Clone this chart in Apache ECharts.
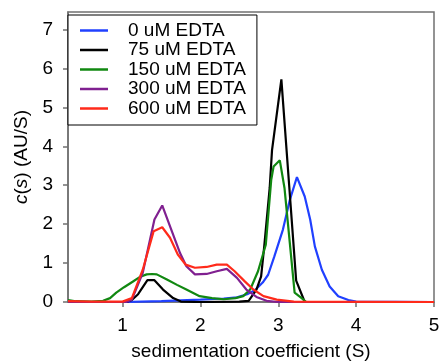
<!DOCTYPE html>
<html>
<head>
<meta charset="utf-8">
<script src="https://cdn.jsdelivr.net/npm/echarts@6/dist/echarts.min.js"></script>
<style>
  html, body {margin: 0; padding: 0; background: #fff;}
  #chart {width: 441px; height: 362px;}
</style>
</head>
<body>
<div id="chart"></div>
<script>
// legend names
const seriesNames = ["0 uM EDTA", "75 uM EDTA", "150 uM EDTA", "300 uM EDTA", "600 uM EDTA"];
const seriesColors = ["#2040ff", "#000000", "#118811", "#802090", "#ff2a1a"];

// [s, c(s)]
const edta0 = [[0.3, 0], [1.0, 0], [1.5, 0.02], [2.0, 0.06], [2.3, 0.09], [2.47, 0.12], [2.6, 0.2], [2.7, 0.3],
    [2.8, 0.5], [2.87, 0.7], [2.95, 1.17], [3.06, 1.86], [3.15, 2.63], [3.24, 3.21], [3.34, 2.71], [3.41, 2.12],
    [3.47, 1.43], [3.56, 0.83], [3.66, 0.4], [3.77, 0.15], [3.9, 0.05], [4.0, 0.01], [5.0, 0]];
const edta75 = [[0.3, 0], [1.05, 0], [1.12, 0.05], [1.2, 0.2], [1.32, 0.56], [1.41, 0.56], [1.52, 0.32],
    [1.65, 0.1], [1.75, 0.01], [2.0, 0], [2.5, 0.01], [2.62, 0.03], [2.72, 0.32], [2.78, 0.66], [2.82, 1.43],
    [2.89, 2.93], [2.92, 3.9], [3.04, 5.72], [3.14, 3.0], [3.23, 0.55], [3.34, 0], [5.0, 0]];
const edta150 = [[0.3, 0.05], [0.4, 0.02], [0.6, 0.01], [0.75, 0.03], [0.84, 0.1], [0.92, 0.24], [1.02, 0.38],
    [1.13, 0.52], [1.22, 0.64], [1.31, 0.71], [1.38, 0.72], [1.44, 0.71], [1.57, 0.58], [1.7, 0.44],
    [1.82, 0.32], [1.99, 0.15], [2.15, 0.1], [2.3, 0.07], [2.45, 0.1], [2.55, 0.15], [2.64, 0.32],
    [2.74, 0.79], [2.84, 1.47], [2.91, 3.14], [2.94, 3.48], [3.02, 3.64], [3.08, 2.93], [3.21, 0.24],
    [3.3, 0.1], [3.36, 0], [5.0, 0]];
const edta300 = [[0.3, 0], [1.05, 0], [1.12, 0.06], [1.26, 0.75], [1.41, 2.12], [1.51, 2.48], [1.62, 1.89],
    [1.74, 1.25], [1.82, 0.92], [1.93, 0.71], [2.08, 0.72], [2.21, 0.79], [2.34, 0.85], [2.47, 0.62],
    [2.59, 0.32], [2.72, 0.13], [2.85, 0.03], [3.0, 0], [5.0, 0]];
const edta600 = [[0.3, 0.02], [0.6, 0.01], [1.0, 0.01], [1.12, 0.1], [1.26, 0.83], [1.4, 1.82], [1.51, 1.92],
    [1.61, 1.65], [1.71, 1.22], [1.81, 0.96], [1.93, 0.88], [2.08, 0.9], [2.21, 0.96], [2.34, 0.96],
    [2.44, 0.79], [2.57, 0.53], [2.68, 0.32], [2.81, 0.15], [2.98, 0.06], [3.2, 0.01], [5.0, 0]];

const xTicks = [1, 2, 3, 4, 5];
const yTicks = [0, 1, 2, 3, 4, 5, 6, 7];

const allData = [edta0, edta75, edta150, edta300, edta600];
const font = "'Liberation Sans', Arial, sans-serif";

const chart = echarts.init(document.getElementById("chart"), null, {renderer: "canvas"});

chart.setOption({
    animation: false,
    textStyle: {fontFamily: font},
    grid: {
        left: 68, right: 7, top: 12, bottom: 60,
        containLabel: false,
        outerBoundsMode: "none",
        show: true,
        borderColor: "#707070",
        borderWidth: 1.5
    },
    legend: {
        orient: "vertical",
        left: 68,
        top: 15,
        padding: [6, 11, 7, 12],
        icon: "rect",
        itemWidth: 28,
        itemHeight: 2.5,
        itemGap: 0.5,
        borderColor: "#000",
        borderWidth: 1,
        backgroundColor: "#fff",
        textStyle: {fontSize: 19, color: "#000", padding: [0, 0, 0, 15], fontFamily: font},
        data: seriesNames
    },
    xAxis: {
        type: "value",
        min: 0.3,
        max: 5,
        name: "sedimentation coefficient (S)",
        nameLocation: "middle",
        nameGap: 40,
        nameTextStyle: {fontSize: 19, color: "#000", fontFamily: font},
        axisLine: {lineStyle: {color: "#707070", width: 1.5}},
        axisTick: {customValues: xTicks, length: 5, lineStyle: {color: "#707070", width: 1.5}},
        axisLabel: {customValues: xTicks, fontSize: 19, color: "#000", margin: 14, fontFamily: font},
        splitLine: {show: false}
    },
    yAxis: {
        type: "value",
        min: 0,
        max: 7.45,
        name: "{i|c}({i|s}) (AU/S)",
        nameLocation: "middle",
        nameGap: 33,
        nameRotate: 90,
        nameTextStyle: {
            fontSize: 19, color: "#000", fontFamily: font,
            rich: {i: {fontSize: 19, fontStyle: "italic", color: "#000", fontFamily: font}}
        },
        axisLine: {show: true, lineStyle: {color: "#707070", width: 1.5}},
        axisTick: {show: true, customValues: yTicks, length: 5, lineStyle: {color: "#707070", width: 1.5}},
        axisLabel: {customValues: yTicks, fontSize: 19, color: "#000", margin: 15, fontFamily: font},
        splitLine: {show: false}
    },
    series: allData.map((d, i) => ({
        name: seriesNames[i],
        type: "line",
        data: d,
        symbol: "none",
        color: seriesColors[i],
        lineStyle: {width: 2.2, color: seriesColors[i]}
    }))
});
</script>
</body>
</html>
